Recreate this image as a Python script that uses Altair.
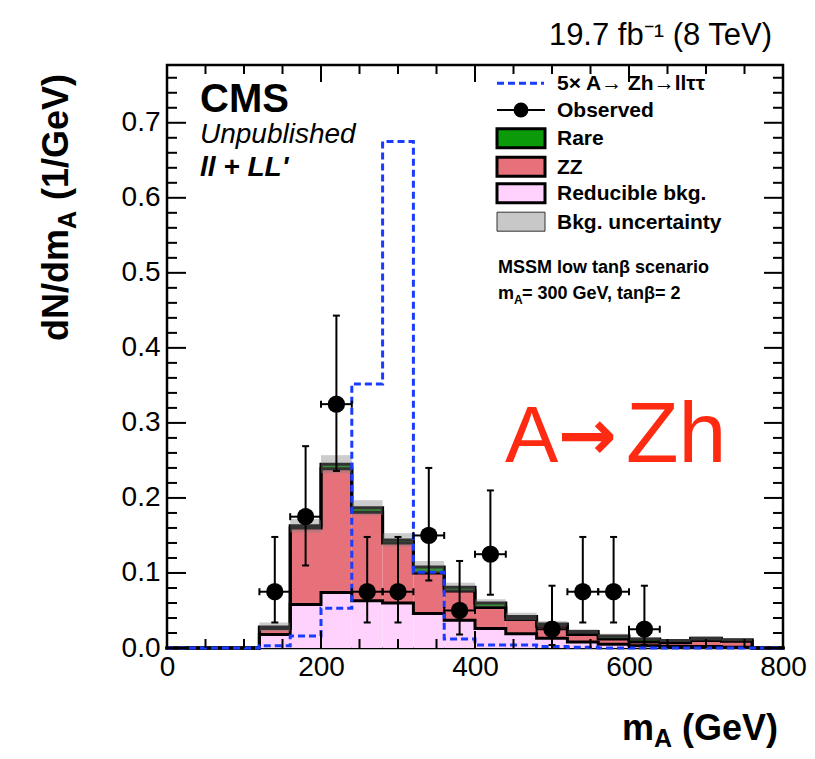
import altair as alt
import pandas as pd

# ---------------- data ----------------
bin_lo = [0, 40, 80, 120, 160, 200, 240, 280, 320, 360, 400, 440, 480, 520, 560, 600, 640, 680, 720, 760]
bin_hi = [40, 80, 120, 160, 200, 240, 280, 320, 360, 400, 440, 480, 520, 560, 600, 640, 680, 720, 760, 800]

reducible = [0, 0, 0, 0.018, 0.058, 0.074, 0.063, 0.060, 0.046, 0.037, 0.026, 0.019, 0.013, 0.008, 0.005, 0.003, 0.002, 0.002, 0.001, 0]
zz        = [0, 0, 0, 0.008, 0.102, 0.165, 0.118, 0.080, 0.054, 0.039, 0.028, 0.019, 0.016, 0.010, 0.007, 0.005, 0.005, 0.008, 0.008, 0]
rare      = [0, 0, 0, 0.002, 0.003, 0.006, 0.006, 0.004, 0.008, 0.005, 0.006, 0.004, 0.003, 0.004, 0.004, 0.004, 0.003, 0.003, 0.002, 0]
bkg_unc   = [0, 0, 0, 0.006, 0.009, 0.012, 0.010, 0.009, 0.008, 0.006, 0.005, 0.005, 0.004, 0.003, 0.003, 0.002, 0.002, 0.003, 0.002, 0]
signal_5x = [0, 0, 0, 0.003, 0.016, 0.053, 0.352, 0.675, 0.101, 0.012, 0.004, 0.004, 0.002, 0.001, 0, 0, 0, 0, 0, 0]

obs_x   = [140, 180, 220, 260, 300, 340, 380, 420, 500, 540, 580, 620]
obs_y   = [0.075, 0.175, 0.325, 0.075, 0.075, 0.150, 0.050, 0.125, 0.025, 0.075, 0.075, 0.025]
obs_elo = [0.041, 0.065, 0.089, 0.041, 0.041, 0.060, 0.032, 0.054, 0.021, 0.041, 0.041, 0.021]
obs_ehi = [0.073, 0.094, 0.118, 0.073, 0.073, 0.090, 0.066, 0.085, 0.058, 0.073, 0.073, 0.058]
obs_halfwidth = 20

x_major = [0, 200, 400, 600, 800]
x_minor = [50, 100, 150, 250, 300, 350, 450, 500, 550, 650, 700, 750]
y_major = [0.0, 0.1, 0.2, 0.3, 0.4, 0.5, 0.6, 0.7]
y_minor = [round(k * 0.02, 2) for k in range(1, 39) if k % 5]

comp_names = ["Reducible bkg.", "ZZ", "Rare"]
comp_colors = ["#ffd2fd", "#e6717b", "#0a9a0a"]
sig_color = "#1a3cff"
FONT = "Liberation Sans"

W, H = 616, 583
XS = alt.Scale(domain=[0, 800], nice=False, zero=False)
YS = alt.Scale(domain=[0, 0.777], nice=False, zero=False)
AX_X = alt.Axis(values=x_major, ticks=False, domain=False, grid=False, labelFontSize=28, labelFont=FONT,
                labelColor="black", labelPadding=5, labelFlush=False, labelOverlap=False, title=None)
AX_Y = alt.Axis(values=y_major, format=".1f", ticks=False, domain=False, grid=False, labelFontSize=28,
                labelFont=FONT, labelColor="black", labelPadding=7, labelFlush=False, labelOverlap=False,
                title=None)


def ex(field):
    return alt.X(field, scale=XS, axis=AX_X)


def ey(field):
    return alt.Y(field, scale=YS, axis=AX_Y)


# ---------------- tables ----------------
cum_red = [r for r in reducible]
cum_zz = [r + z for r, z in zip(reducible, zz)]
cum_tot = [c + q for c, q in zip(cum_zz, rare)]

fill_rows = []
for i in range(len(bin_lo)):
    bands = [(0, cum_red[i]), (cum_red[i], cum_zz[i]), (cum_zz[i], cum_tot[i])]
    for name, (a, b) in zip(comp_names, bands):
        if b > a:
            fill_rows.append(dict(lo=bin_lo[i], hi=bin_hi[i], y0=a, y1=b, comp=name))
fill_df = pd.DataFrame(fill_rows)

edges = bin_lo + [bin_hi[-1]]
line_rows = []
for sname, vals in [("red", cum_red), ("zz", cum_zz), ("tot", cum_tot)]:
    for i, e in enumerate(edges):
        line_rows.append(dict(x=e, y=vals[min(i, len(vals) - 1)], s=sname))
line_df = pd.DataFrame(line_rows)

sig_df = pd.DataFrame(dict(x=edges, y=signal_5x + [signal_5x[-1]]))

unc_df = pd.DataFrame([dict(lo=bin_lo[i], hi=bin_hi[i], y0=cum_tot[i] - bkg_unc[i], y1=cum_tot[i] + bkg_unc[i])
                       for i in range(len(bin_lo)) if bkg_unc[i] > 0])

obs_df = pd.DataFrame(dict(x=obs_x, y=obs_y,
                           xlo=[v - obs_halfwidth for v in obs_x], xhi=[v + obs_halfwidth for v in obs_x],
                           ylo=[v - e for v, e in zip(obs_y, obs_elo)], yhi=[v + e for v, e in zip(obs_y, obs_ehi)]))

dummy = pd.DataFrame({"a": [0]})

# ---------------- layers ----------------
fills = alt.Chart(fill_df).mark_rect(strokeWidth=0).encode(
    x=ex("lo:Q"), x2="hi:Q", y=ey("y0:Q"), y2="y1:Q",
    color=alt.Color("comp:N", scale=alt.Scale(domain=comp_names, range=comp_colors), legend=None),
)

outlines = alt.Chart(line_df).mark_line(color="black", strokeWidth=3, interpolate="step-after",
                                        strokeJoin="miter", strokeCap="square").encode(
    x=ex("x:Q"), y=ey("y:Q"), detail="s:N")

unc = alt.Chart(unc_df).mark_rect(color="#808080", opacity=0.4, strokeWidth=0).encode(
    x=ex("lo:Q"), x2="hi:Q", y=ey("y0:Q"), y2="y1:Q")

signal = alt.Chart(sig_df).mark_line(color=sig_color, strokeWidth=3, strokeDash=[7, 4],
                                     interpolate="step-after").encode(x=ex("x:Q"), y=ey("y:Q"))

ebar_v = alt.Chart(obs_df).mark_rule(color="black", strokeWidth=2).encode(
    x=ex("x:Q"), y=ey("ylo:Q"), y2="yhi:Q")
ebar_h = alt.Chart(obs_df).mark_rule(color="black", strokeWidth=2).encode(
    x=ex("xlo:Q"), x2="xhi:Q", y=ey("y:Q"))
cap_layers = []
for fx in ["xlo", "xhi"]:
    cap_layers.append(alt.Chart(obs_df).mark_tick(orient="vertical", size=7, thickness=2, color="black", opacity=1).encode(
        x=ex(f"{fx}:Q"), y=ey("y:Q")))
for fy in ["ylo", "yhi"]:
    cap_layers.append(alt.Chart(obs_df).mark_tick(orient="horizontal", size=7, thickness=2, color="black", opacity=1).encode(
        x=ex("x:Q"), y=ey(f"{fy}:Q")))
points = alt.Chart(obs_df).mark_circle(size=300, color="black", opacity=1).encode(x=ex("x:Q"), y=ey("y:Q"))

# inward ticks on all four sides
tick_layers = []
for vals, L in [(x_major, 17), (x_minor, 9)]:
    d = pd.DataFrame({"v": vals})
    tick_layers.append(alt.Chart(d).mark_rule(color="black", strokeWidth=2).encode(
        x=ex("v:Q"), y=alt.value(H), y2=alt.value(H - L)))
    tick_layers.append(alt.Chart(d).mark_rule(color="black", strokeWidth=2).encode(
        x=ex("v:Q"), y=alt.value(0), y2=alt.value(L)))
for vals, L in [(y_major, 19), (y_minor, 10)]:
    d = pd.DataFrame({"v": vals})
    tick_layers.append(alt.Chart(d).mark_rule(color="black", strokeWidth=2).encode(
        y=ey("v:Q"), x=alt.value(0), x2=alt.value(L)))
    tick_layers.append(alt.Chart(d).mark_rule(color="black", strokeWidth=2).encode(
        y=ey("v:Q"), x=alt.value(W - L), x2=alt.value(W)))


def label(text, px, py, size, weight="normal", style="normal", align="left",
          baseline="alphabetic", angle=0, color="black", font=FONT):
    return alt.Chart(dummy).mark_text(text=text, fontSize=size, fontWeight=weight, fontStyle=style,
                                      align=align, baseline=baseline, angle=angle, color=color,
                                      font=font).encode(x=alt.value(px), y=alt.value(py))


def box(yc, fill, stroke="black", sw=3, opacity=1.0):
    return alt.Chart(dummy).mark_rect(fill=fill, stroke=stroke, strokeWidth=sw, fillOpacity=opacity).encode(
        x=alt.value(330), x2=alt.value(378), y=alt.value(yc - 9.5), y2=alt.value(yc + 9.5))


RED = "#fe2a12"
texts = [
    # lumi
    label("19.7 fb⁻¹ (8 TeV)", 605, -20, 31, align="right"),
    # CMS block
    label("CMS", 33, 47, 40, weight="bold"),
    label("Unpublished", 33, 78, 28, style="italic"),
    label("ll + LL'", 33, 111, 28, weight="bold", style="italic"),
    # scenario text
    label("MSSM low tanβ scenario", 331, 208, 18, weight="bold"),
    label("m", 331, 234, 18, weight="bold"),
    label("A", 347, 239, 12, weight="bold"),
    label("= 300 GeV, tanβ= 2", 355, 234, 18, weight="bold"),
    # big annotation
    label("A", 338, 397, 80, color=RED),
    label("→", 391, 394, 70, color=RED, weight="bold", font="DejaVu Sans"),
    label("Zh", 459, 397, 86, color=RED),
    # x axis title
    label("m", 455, 675, 36, weight="bold"),
    label("A", 487, 682, 25, weight="bold"),
    label("(GeV)", 515, 675, 36, weight="bold"),
    # y axis title (rotated)
    label("dN/dm", -99, 276, 36, weight="bold", angle=270),
    label("A", -91, 164, 25, weight="bold", angle=270),
    label("(1/GeV)", -99, 135, 36, weight="bold", angle=270),
]

# legend
legend = [
    alt.Chart(dummy).mark_rule(color=sig_color, strokeWidth=3, strokeDash=[7, 4]).encode(
        x=alt.value(330), x2=alt.value(377), y=alt.value(18.3)),
    alt.Chart(dummy).mark_rule(color="black", strokeWidth=2).encode(
        x=alt.value(330), x2=alt.value(378), y=alt.value(45)),
    alt.Chart(dummy).mark_circle(size=220, color="black", opacity=1).encode(
        x=alt.value(354), y=alt.value(45)),
    box(73.3, comp_colors[2]),
    box(101.7, comp_colors[1]),
    box(128.3, comp_colors[0]),
    box(156.7, "#c8c8c8", stroke="#333333", sw=1),
]
leg_labels = ["5× A→ Zh→llττ", "Observed", "Rare", "ZZ", "Reducible bkg.", "Bkg. uncertainty"]
leg_y = [18.3, 45, 73.3, 101.7, 128.3, 156.7]
for t, yy in zip(leg_labels, leg_y):
    legend.append(label(t, 390, yy + 1, 21, weight="bold", baseline="middle"))

layers = [fills, outlines, unc, signal, ebar_v, ebar_h] + cap_layers + [points] + tick_layers + texts + legend

chart = alt.layer(*layers).properties(
    width=W, height=H,
    padding={"left": 159, "top": 57, "right": 24, "bottom": 103},
    autosize=alt.AutoSizeParams(type="none"),
).configure_view(stroke="black", strokeWidth=2.5)

chart.save("out.html", embed_options={"renderer": "svg", "actions": False})
